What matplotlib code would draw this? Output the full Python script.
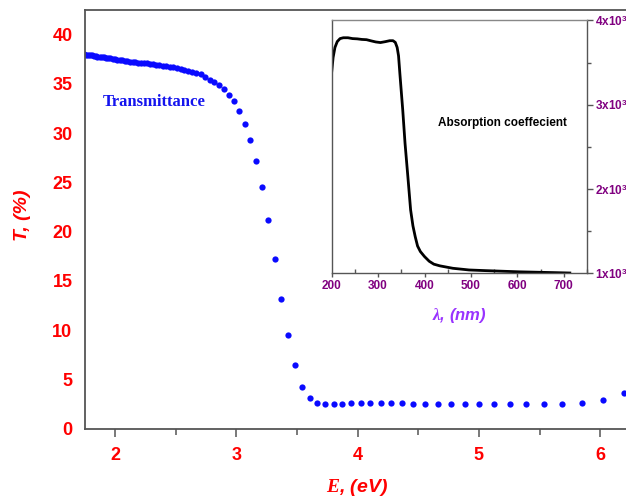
import matplotlib
matplotlib.use("Agg")
import matplotlib.pyplot as plt
from matplotlib.ticker import MultipleLocator, FixedLocator

plt.rcParams['font.family'] = ['Liberation Sans', 'DejaVu Sans']
plt.rcParams['font.weight'] = 'bold'
plt.rcParams['mathtext.fontset'] = 'custom'
plt.rcParams['mathtext.it'] = 'Liberation Serif:italic'
plt.rcParams['mathtext.rm'] = 'Liberation Sans:bold'
plt.rcParams['mathtext.bf'] = 'Liberation Sans:bold'

# ---- Transmittance data (photon energy in eV, T in %) ----
energy = [1.746, 1.761, 1.777, 1.792, 1.808, 1.824, 1.840, 1.856, 1.873, 1.890,
          1.908, 1.925, 1.944, 1.962, 1.981, 2.000, 2.020, 2.039, 2.060, 2.081,
          2.102, 2.123, 2.145, 2.168, 2.191, 2.214, 2.238, 2.263, 2.288, 2.313,
          2.340, 2.366, 2.394, 2.422, 2.451, 2.480, 2.510, 2.541, 2.573, 2.605,
          2.638, 2.672, 2.707, 2.743, 2.780, 2.818, 2.857, 2.897, 2.938, 2.981,
          3.024, 3.069, 3.116, 3.163, 3.212, 3.263, 3.316, 3.370, 3.425, 3.483,
          3.543, 3.605, 3.669, 3.735, 3.804, 3.875, 3.949, 4.026, 4.106, 4.189,
          4.276, 4.366, 4.460, 4.559, 4.662, 4.769, 4.882, 5.000, 5.124, 5.254,
          5.391, 5.536, 5.688, 5.849, 6.019, 6.200]
transmittance = [38.00, 37.97, 37.94, 37.91, 37.88, 37.84, 37.80, 37.77, 37.74, 37.71,
                 37.68, 37.65, 37.62, 37.58, 37.54, 37.50, 37.46, 37.42, 37.38, 37.34,
                 37.30, 37.27, 37.23, 37.20, 37.16, 37.13, 37.10, 37.07, 37.03, 37.00,
                 36.95, 36.90, 36.85, 36.80, 36.74, 36.68, 36.62, 36.55, 36.45, 36.35,
                 36.25, 36.10, 35.95, 35.70, 35.40, 35.16, 34.85, 34.45, 33.91, 33.23,
                 32.28, 30.96, 29.31, 27.18, 24.50, 21.15, 17.20, 13.20, 9.54, 6.43,
                 4.26, 3.10, 2.60, 2.50, 2.50, 2.50, 2.54, 2.55, 2.56, 2.56,
                 2.56, 2.55, 2.53, 2.52, 2.50, 2.50, 2.49, 2.48, 2.47, 2.46,
                 2.45, 2.47, 2.50, 2.60, 2.91, 3.58]

# ---- Absorption coefficient data (wavelength nm) ----
wavelength = [200, 203, 207, 212, 218, 225, 235, 245, 255, 265, 275, 285, 295, 305,
              315, 325, 332, 337, 341, 344, 347, 350, 353, 358, 364, 370, 375, 380,
              385, 391, 400, 410, 420, 433, 461, 496, 532, 604, 676, 713]
absorption = [3390, 3560, 3680, 3750, 3785, 3795, 3795, 3785, 3782, 3775, 3772, 3758,
              3745, 3738, 3748, 3760, 3760, 3740, 3680, 3580, 3360, 3150, 2940, 2540,
              2150, 1750, 1560, 1430, 1320, 1255, 1195, 1140, 1105, 1085, 1056, 1036,
              1028, 1014, 1005, 1000]

x_ticks = [2, 3, 4, 5, 6]
x_labels = ['2', '3', '4', '5', '6']
y_ticks = [0, 5, 10, 15, 20, 25, 30, 35, 40]
y_labels = ['0', '5', '10', '15', '20', '25', '30', '35', '40']
in_x_ticks = [200, 300, 400, 500, 600, 700]
in_x_labels = ['200', '300', '400', '500', '600', '700']
in_y_ticks = [1000, 2000, 3000, 4000]
in_y_labels = [r'1x10$^{3}$', r'2x10$^{3}$', r'3x10$^{3}$', r'4x10$^{3}$']

fig = plt.figure(figsize=(6.26, 4.97), dpi=100)
W, H = 626.0, 497.0
AW, AH = 551.6, 418.5
spine_col = '#555555'

ax = fig.add_axes([85 / W, 68.5 / H, AW / W, AH / H])
ax.plot(energy, transmittance, 'o', color='#0a0aff', markersize=4.5, markeredgewidth=0)
ax.set_xlim(1.753, 6.30)
ax.set_ylim(0, 42.5)
for s in ['left', 'bottom', 'top']:
    ax.spines[s].set_color(spine_col)
    ax.spines[s].set_linewidth(1.3)
ax.spines['right'].set_visible(False)
ax.set_xticks(x_ticks, labels=x_labels, fontweight='bold', fontsize=13, color='#ff0000')
ax.xaxis.set_minor_locator(MultipleLocator(0.5))
ax.set_yticks(y_ticks, labels=y_labels, fontweight='bold', fontsize=13, color='#ff0000')
ax.tick_params(axis='x', which='major', direction='out', length=6, width=1.1,
               color=spine_col, pad=7)
ax.tick_params(axis='x', which='minor', direction='out', length=4, width=1.1, color=spine_col)
ax.tick_params(axis='y', which='both', length=0, pad=9)

ax.set_ylabel('T, (%)', fontsize=14, fontweight='bold', fontstyle='italic', color='#ff0000')
ax.yaxis.set_label_coords(-0.098, 0.51)
ax.set_xlabel(r'$\mathit{E}$, (eV)', fontsize=14, fontweight='bold', fontstyle='italic',
              color='#ff0000')
ax.xaxis.set_label_coords(272 / AW, -49 / AH)

ax.text((103 - 85) / AW, (428.5 - 102) / AH, 'Transmittance', transform=ax.transAxes,
        fontsize=12, fontweight='bold', family='Liberation Serif', color='#1414ee',
        ha='left', va='center')

# ---- inset ----
IW, IH = 587 - 331.7, 273 - 20.5
ins = fig.add_axes([331.7 / W, (497 - 273) / H, IW / W, IH / H])
ins.plot(wavelength, absorption, color='black', linewidth=2.0)
ins.set_xlim(200, 750)
ins.set_ylim(1000, 4000)
for s in ['left', 'bottom', 'top', 'right']:
    ins.spines[s].set_color(spine_col)
    ins.spines[s].set_linewidth(1.0)
ins.spines['top'].set_color('#888888')
ins.set_xticks(in_x_ticks, labels=in_x_labels, fontweight='bold', fontsize=8.5, color='#800080')
ins.xaxis.set_minor_locator(MultipleLocator(50))
ins.yaxis.tick_right()
ins.set_yticks(in_y_ticks, labels=in_y_labels, fontweight='bold', fontsize=8.5, color='#800080')
ins.yaxis.set_minor_locator(FixedLocator([1500, 2500, 3500]))
ins.tick_params(axis='y', which='major', direction='out', length=4, width=1.0,
                color=spine_col, pad=1.5)
ins.tick_params(axis='y', which='minor', direction='out', length=3, width=1.0, color=spine_col)
ins.tick_params(axis='x', which='major', direction='out', length=3, width=1.0,
                color=spine_col, pad=2)
ins.tick_params(axis='x', which='minor', direction='in', length=3, width=1.0, color=spine_col)
ins.set_xlabel(r'$\mathit{\lambda}$, (nm)', fontsize=12, fontweight='bold', fontstyle='italic',
               color='#9933ff', labelpad=10)
ins.text((438 - 331.7) / IW, (273 - 123) / IH, 'Absorption coeffecient', transform=ins.transAxes,
         fontsize=8.5, fontweight='bold', color='black', ha='left', va='center')

fig.savefig('out.png', dpi=100)
